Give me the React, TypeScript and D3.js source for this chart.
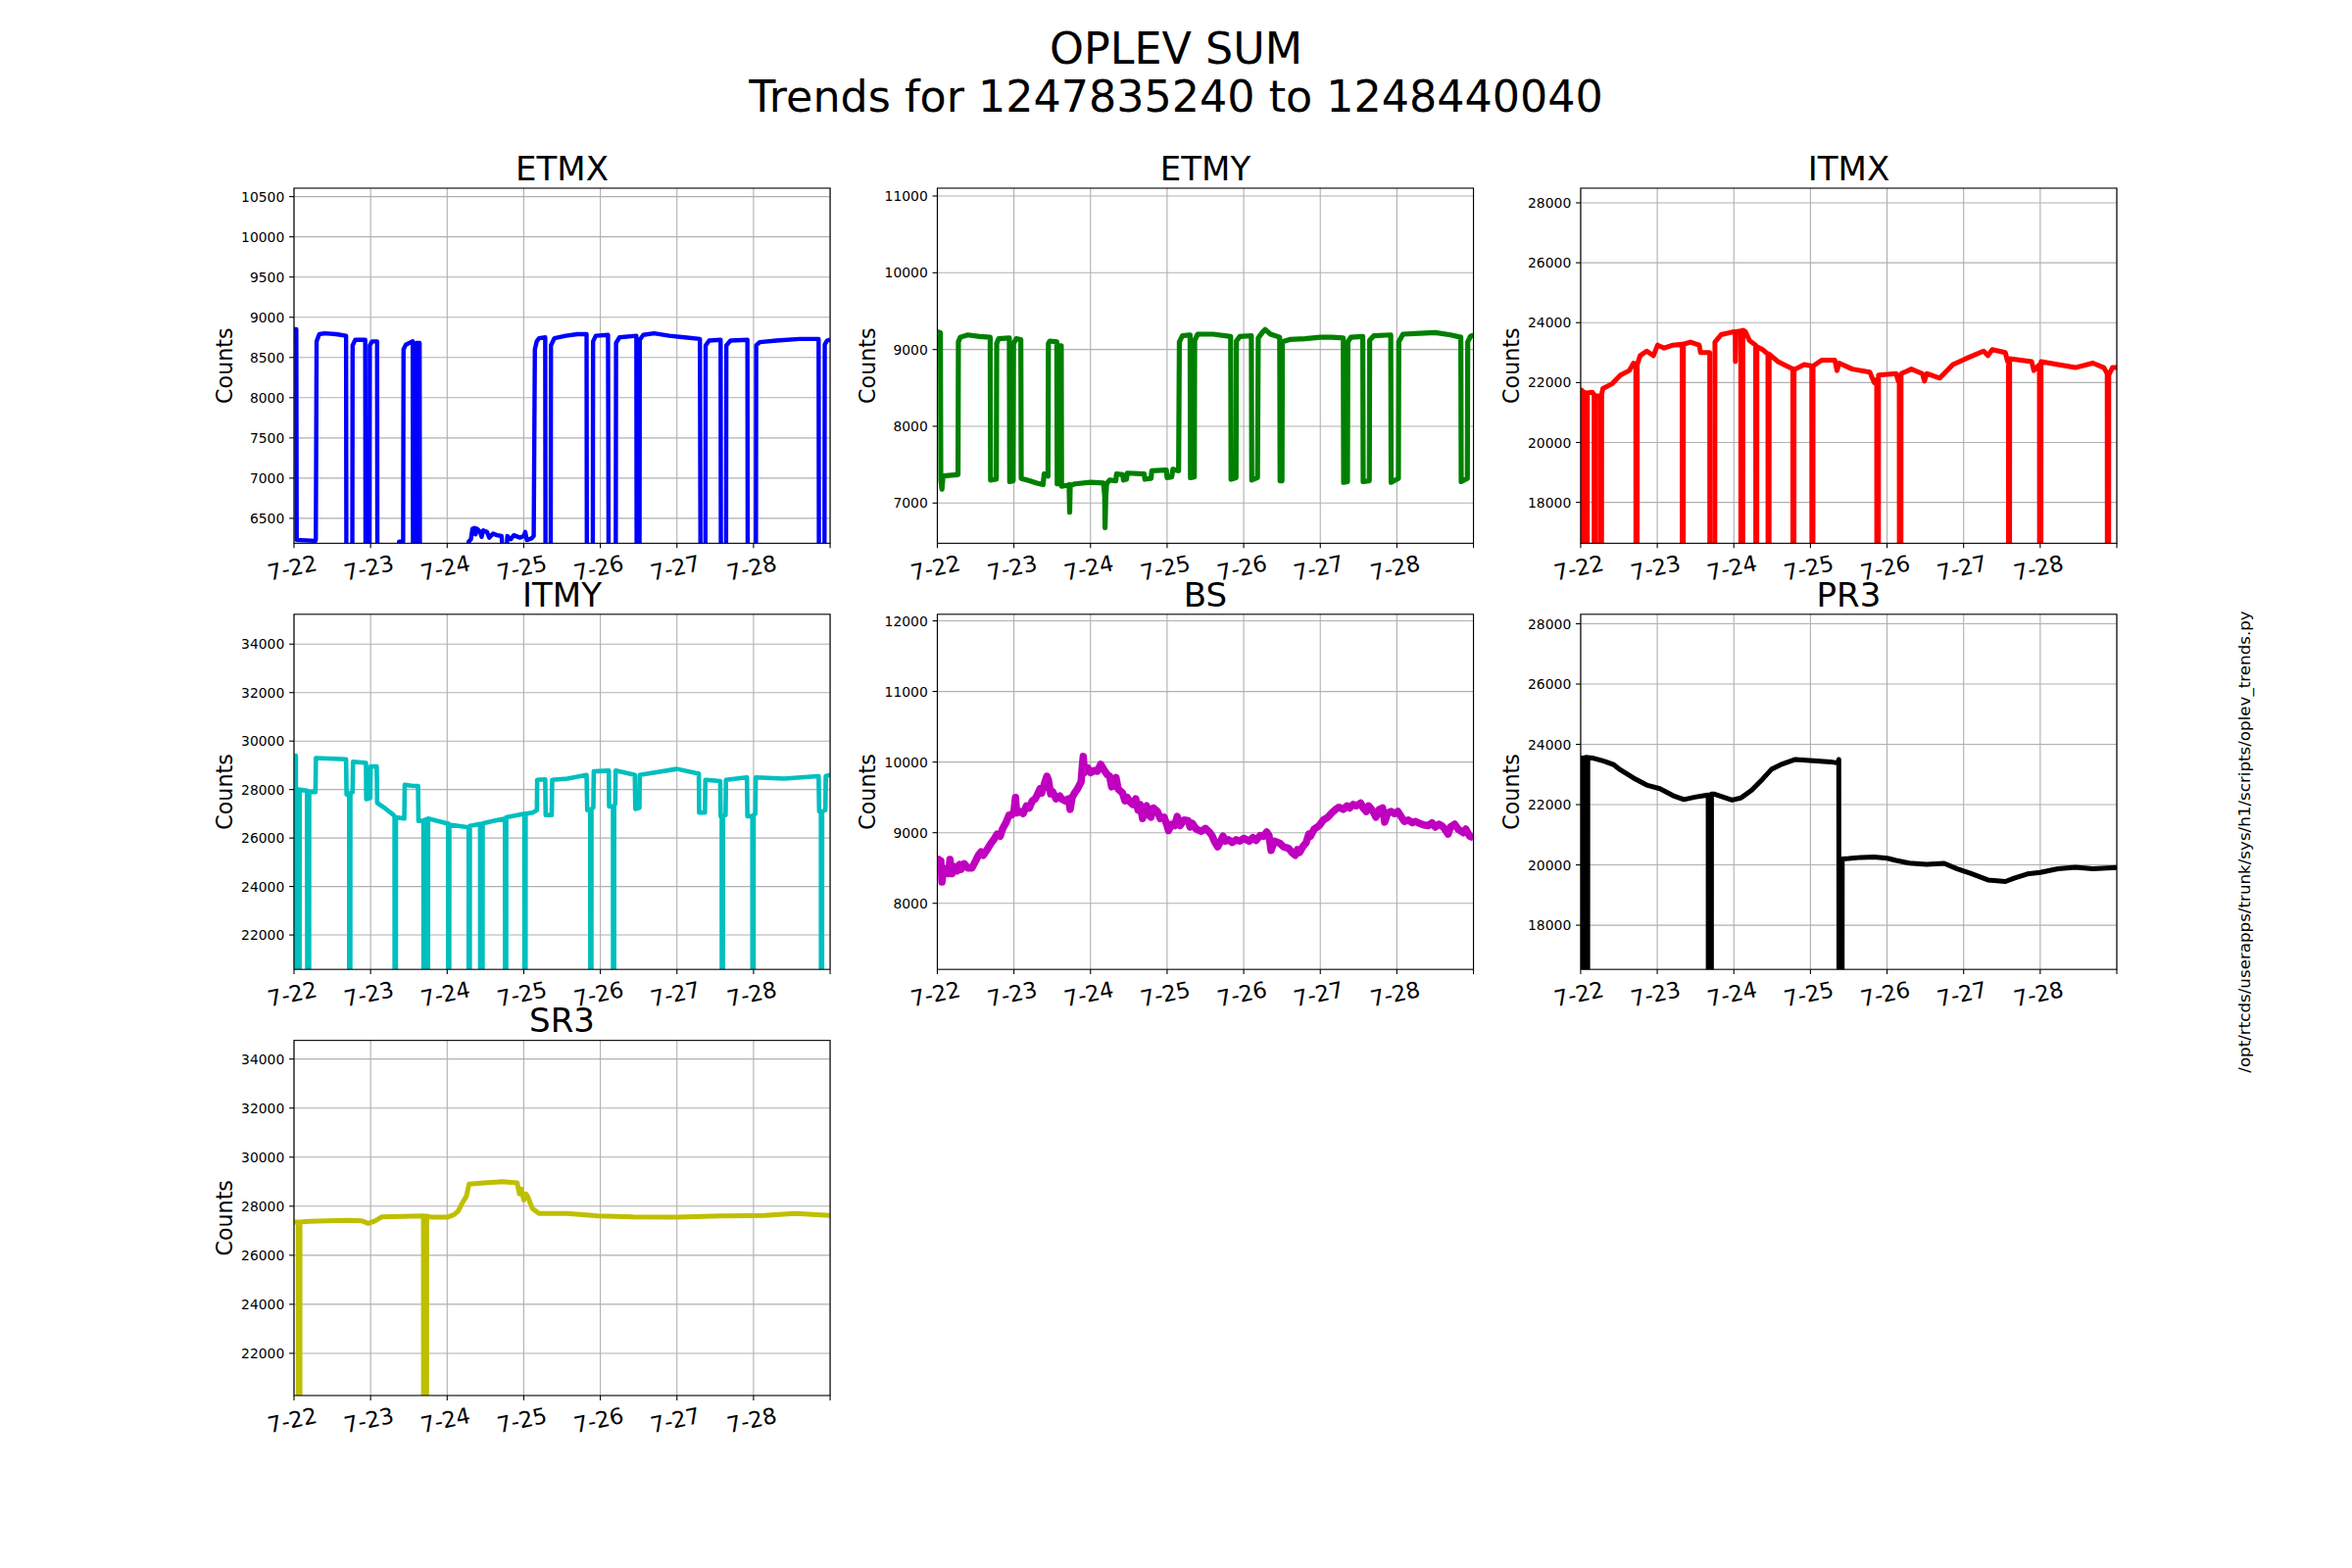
import * as d3 from "d3";

// layout of the matplotlib-like 3x3 grid (figure 2400x1600)
const FIG_W = 2400;
const FIG_H = 1600;
const GRID_L = 300;
const GRID_R = 2160;
const GRID_T = 192;
const GRID_B = 1424;
const COL_W = (GRID_R - GRID_L) / 3.4;
const ROW_H = (GRID_B - GRID_T) / 3.4;

const FONT = "DejaVu Sans, Verdana, sans-serif";

const dayTicks = [0, 1, 2, 3, 4, 5, 6, 7];
const dayLabels = ["7-22", "7-23", "7-24", "7-25", "7-26", "7-27", "7-28"];

// value used where the signal drops below the visible range
const L = 5000;

const etmx: [number, number][] = [
	[0, 8850], [0.03, 8850], [0.035, 6230], [0.28, 6220], [0.285, 6240], [0.295, 8700], [0.33, 8790],
	[0.4, 8800], [0.55, 8790], [0.68, 8770], [0.685, L], [0.76, L], [0.765, 8650], [0.8, 8720],
	[0.93, 8720], [0.935, L], [0.985, L], [0.99, 8650], [1.02, 8700], [1.085, 8700], [1.09, L],
	[1.37, L], [1.372, 6210], [1.425, 6210], [1.43, 8600], [1.46, 8660], [1.55, 8700], [1.555, L],
	[1.595, L], [1.6, 8680], [1.64, 8680], [1.645, L], [2.24, L], [2.28, 6210], [2.31, 6240],
	[2.33, 6370], [2.36, 6380], [2.37, 6300], [2.39, 6370], [2.43, 6330], [2.45, 6270], [2.47, 6350],
	[2.52, 6330], [2.55, 6260], [2.6, 6310], [2.65, 6290], [2.71, 6280], [2.72, 6150], [2.78, 6150],
	[2.785, 6280], [2.83, 6240], [2.87, 6290], [2.95, 6260], [3.0, 6280], [3.02, 6330], [3.04, 6230],
	[3.1, 6250], [3.13, 6280], [3.145, 8600], [3.17, 8700], [3.2, 8740], [3.28, 8750], [3.285, L],
	[3.35, L], [3.355, 8650], [3.4, 8740], [3.55, 8770], [3.7, 8790], [3.82, 8790], [3.825, L],
	[3.9, L], [3.905, 8700], [3.94, 8770], [4.1, 8780], [4.11, L], [4.2, L], [4.205, 8680],
	[4.25, 8750], [4.47, 8770], [4.475, L], [4.51, L], [4.515, 8720], [4.56, 8780], [4.7, 8800],
	[4.9, 8770], [5.1, 8750], [5.3, 8730], [5.31, L], [5.37, L], [5.375, 8650], [5.42, 8710],
	[5.57, 8720], [5.575, L], [5.64, L], [5.645, 8650], [5.7, 8710], [5.92, 8720], [5.925, L],
	[6.03, L], [6.035, 8650], [6.08, 8690], [6.3, 8710], [6.6, 8730], [6.85, 8730], [6.855, L],
	[6.925, L], [6.93, 8660], [6.96, 8710], [7.0, 8720],
];

const etmy: [number, number][] = [
	[0, 9230], [0.04, 9220], [0.045, 7300], [0.06, 7180], [0.075, 7350], [0.15, 7360], [0.27, 7370],
	[0.275, 9100], [0.3, 9160], [0.4, 9190], [0.55, 9170], [0.69, 9160], [0.695, 7300], [0.77, 7310],
	[0.775, 9080], [0.8, 9140], [0.94, 9150], [0.945, 7280], [0.99, 7290], [0.995, 9080], [1.03, 9140],
	[1.09, 9130], [1.095, 7320], [1.2, 7290], [1.3, 7260], [1.38, 7240], [1.395, 7380], [1.445, 7350],
	[1.45, 9080], [1.47, 9110], [1.56, 9100], [1.565, 7250], [1.6, 7250], [1.603, 9050], [1.618, 9050],
	[1.622, 7220], [1.7, 7230], [1.72, 7240], [1.728, 6880], [1.735, 7230], [1.8, 7250], [2.0, 7270],
	[2.17, 7260], [2.185, 7100], [2.19, 6680], [2.2, 7100], [2.21, 7250], [2.25, 7300], [2.33, 7290],
	[2.34, 7380], [2.42, 7370], [2.43, 7300], [2.47, 7310], [2.48, 7390], [2.7, 7380], [2.71, 7310],
	[2.79, 7320], [2.8, 7420], [2.99, 7430], [3.0, 7330], [3.06, 7340], [3.075, 7440], [3.15, 7420],
	[3.16, 9100], [3.2, 9180], [3.3, 9190], [3.305, 7330], [3.355, 7340], [3.36, 9120], [3.4, 9200],
	[3.6, 9200], [3.83, 9170], [3.835, 7310], [3.9, 7330], [3.905, 9110], [3.95, 9170], [4.1, 9180],
	[4.105, 7300], [4.18, 7330], [4.19, 9150], [4.25, 9230], [4.28, 9260], [4.35, 9200], [4.47, 9160],
	[4.475, 7290], [4.5, 7290], [4.505, 9100], [4.6, 9130], [4.8, 9140], [5.0, 9160], [5.15, 9160],
	[5.3, 9150], [5.305, 7270], [5.355, 7280], [5.36, 9100], [5.4, 9160], [5.555, 9170], [5.56, 7280],
	[5.64, 7290], [5.645, 9120], [5.7, 9180], [5.92, 9190], [5.925, 7270], [6.02, 7320], [6.025, 9100],
	[6.08, 9200], [6.3, 9210], [6.5, 9220], [6.7, 9190], [6.835, 9160], [6.84, 7280], [6.92, 7320],
	[6.925, 9100], [6.96, 9170], [7.0, 9190],
];

const itmx: [number, number][] = [
	[0, 21750], [0.012, 21750], [0.015, L], [0.025, L], [0.028, 21700], [0.07, 21650], [0.073, L],
	[0.085, L], [0.088, 21650], [0.15, 21680], [0.175, 21600], [0.178, L], [0.19, L], [0.193, 21550],
	[0.24, 21550], [0.258, 21550], [0.261, L], [0.271, L], [0.274, 21600], [0.29, 21800], [0.405, 21950],
	[0.52, 22250], [0.634, 22400], [0.69, 22650], [0.72, 22600], [0.723, L], [0.735, L], [0.738, 22600],
	[0.777, 22900], [0.862, 23050], [0.95, 22900], [1.005, 23250], [1.09, 23150], [1.205, 23250],
	[1.325, 23280], [1.328, L], [1.338, L], [1.341, 23280], [1.433, 23350], [1.548, 23250],
	[1.565, 23000], [1.662, 23000], [1.685, 23000], [1.688, L], [1.75, L], [1.753, 23350],
	[1.833, 23600], [2.005, 23700], [2.018, 23680], [2.02, 22700], [2.026, 23700], [2.09, 23720],
	[2.093, L], [2.115, L], [2.118, 23750], [2.15, 23700], [2.204, 23400], [2.285, 23250], [2.288, L],
	[2.298, L], [2.301, 23200], [2.376, 23100], [2.445, 22950], [2.448, L], [2.458, L], [2.461, 22950],
	[2.576, 22700], [2.69, 22550], [2.77, 22450], [2.773, L], [2.783, L], [2.786, 22450], [2.804, 22450],
	[2.918, 22600], [3.018, 22550], [3.021, L], [3.031, L], [3.034, 22550], [3.147, 22750],
	[3.318, 22750], [3.347, 22400], [3.375, 22650], [3.547, 22450], [3.775, 22350], [3.832, 22000],
	[3.865, 22100], [3.868, L], [3.885, L], [3.889, 22250], [4.118, 22300], [4.146, 22050],
	[4.16, 22100], [4.163, L], [4.18, L], [4.183, 22300], [4.232, 22350], [4.317, 22450], [4.46, 22300],
	[4.489, 22050], [4.517, 22300], [4.689, 22150], [4.86, 22600], [5.031, 22800], [5.26, 23050],
	[5.317, 22900], [5.374, 23100], [5.545, 23000], [5.574, 22700], [5.585, 22750], [5.588, L],
	[5.598, L], [5.601, 22800], [5.888, 22700], [5.917, 22400], [5.99, 22600], [5.993, L], [6.008, L],
	[6.011, 22700], [6.231, 22600], [6.459, 22500], [6.688, 22650], [6.83, 22500], [6.875, 22300],
	[6.878, L], [6.892, L], [6.895, 22250], [6.944, 22500], [7.0, 22500],
];

const itmy: [number, number][] = [
	[0, 29400], [0.025, 29400], [0.028, L], [0.04, L], [0.043, 28000], [0.057, 28000], [0.06, L],
	[0.07, L], [0.073, 28000], [0.17, 27950], [0.18, L], [0.195, L], [0.198, 27900], [0.28, 27900],
	[0.286, 29300], [0.45, 29280], [0.68, 29250], [0.686, 27800], [0.72, 27800], [0.723, L], [0.733, L],
	[0.736, 27850], [0.765, 27900], [0.771, 29150], [0.94, 29100], [0.943, 27600], [0.995, 27650],
	[1.0, 28950], [1.08, 28950], [1.086, 27450], [1.2, 27200], [1.3, 26950], [1.313, 26900],
	[1.316, L], [1.328, L], [1.331, 26850], [1.44, 26800], [1.446, 28200], [1.55, 28150],
	[1.62, 28150], [1.625, 26700], [1.69, 26720], [1.693, L], [1.703, L], [1.706, 26750],
	[1.735, 26780], [1.738, L], [1.748, L], [1.751, 26800], [2.0, 26600], [2.012, 26600], [2.015, L],
	[2.025, L], [2.028, 26550], [2.257, 26450], [2.28, 26450], [2.283, L], [2.293, L], [2.296, 26500],
	[2.43, 26580], [2.433, L], [2.46, L], [2.463, 26600], [2.6, 26700], [2.755, 26800], [2.758, L],
	[2.768, L], [2.771, 26850], [3.0, 27000], [3.008, 27000], [3.011, L], [3.021, L], [3.024, 27000],
	[3.114, 27050], [3.171, 27150], [3.175, 28400], [3.28, 28420], [3.286, 26950], [3.365, 26950],
	[3.371, 28400], [3.571, 28450], [3.82, 28600], [3.829, 27150], [3.868, 27150], [3.871, L],
	[3.881, L], [3.884, 27200], [3.908, 27250], [3.914, 28750], [4.11, 28780], [4.114, 27300],
	[4.165, 27300], [4.168, L], [4.178, L], [4.181, 27350], [4.194, 27400], [4.2, 28780], [4.45, 28600],
	[4.457, 27200], [4.51, 27250], [4.514, 28600], [4.714, 28700], [5.0, 28850], [5.286, 28650],
	[5.29, 27050], [5.365, 27050], [5.371, 28400], [5.565, 28350], [5.571, 26900], [5.585, 26900],
	[5.588, L], [5.598, L], [5.601, 26900], [5.635, 26950], [5.64, 28400], [5.914, 28500],
	[5.92, 26900], [5.985, 26900], [5.988, L], [5.998, L], [6.001, 26950], [6.023, 27000],
	[6.029, 28500], [6.4, 28450], [6.85, 28550], [6.857, 27100], [6.88, 27100], [6.883, L], [6.893, L],
	[6.896, 27100], [6.938, 27150], [6.943, 28550], [7.0, 28600],
];

const bs: [number, number][] = [
	[0, 8500], [0.015, 8620], [0.03, 8450], [0.045, 8600], [0.06, 8300], [0.068, 8380], [0.1, 8450],
	[0.13, 8500], [0.15, 8420], [0.165, 8620], [0.18, 8480], [0.194, 8420], [0.23, 8520], [0.26, 8460],
	[0.29, 8550], [0.31, 8480], [0.35, 8560], [0.4, 8500], [0.451, 8500], [0.5, 8600], [0.536, 8680],
	[0.57, 8730], [0.6, 8680], [0.65, 8760], [0.7, 8850], [0.736, 8900], [0.78, 8980], [0.82, 8950],
	[0.85, 9050], [0.9, 9150], [0.936, 9250], [0.97, 9250], [1.0, 9300], [1.021, 9500], [1.035, 9280],
	[1.08, 9300], [1.12, 9270], [1.164, 9380], [1.2, 9350], [1.24, 9450], [1.278, 9480], [1.31, 9550],
	[1.34, 9620], [1.363, 9560], [1.4, 9700], [1.43, 9800], [1.449, 9750], [1.48, 9550], [1.506, 9580],
	[1.55, 9480], [1.6, 9520], [1.62, 9480], [1.67, 9450], [1.71, 9480], [1.734, 9330], [1.76, 9500],
	[1.791, 9560], [1.83, 9620], [1.877, 9720], [1.89, 9900], [1.905, 10080], [1.92, 9850],
	[1.962, 9920], [2.0, 9850], [2.048, 9880], [2.09, 9870], [2.133, 9970], [2.17, 9900], [2.219, 9820],
	[2.25, 9800], [2.276, 9650], [2.3, 9720], [2.333, 9780], [2.36, 9620], [2.419, 9560], [2.45, 9450],
	[2.48, 9500], [2.504, 9450], [2.55, 9400], [2.59, 9480], [2.62, 9320], [2.647, 9400], [2.68, 9200],
	[2.71, 9350], [2.732, 9380], [2.76, 9250], [2.789, 9220], [2.82, 9350], [2.875, 9300], [2.91, 9200],
	[2.961, 9220], [3.0, 9100], [3.018, 9030], [3.06, 9120], [3.1, 9100], [3.132, 9230], [3.17, 9100],
	[3.22, 9180], [3.274, 9170], [3.3, 9080], [3.331, 9130], [3.38, 9050], [3.446, 9020], [3.5, 9060],
	[3.56, 9000], [3.59, 8950], [3.617, 8880], [3.66, 8800], [3.685, 8850], [3.731, 8950], [3.76, 8880],
	[3.8, 8900], [3.85, 8860], [3.902, 8900], [3.95, 8880], [4.0, 8920], [4.073, 8880], [4.12, 8930],
	[4.16, 8890], [4.216, 8960], [4.26, 8950], [4.3, 9010], [4.33, 8960], [4.358, 8750], [4.4, 8880],
	[4.472, 8850], [4.52, 8800], [4.586, 8780], [4.63, 8720], [4.672, 8680], [4.7, 8760], [4.729, 8720],
	[4.77, 8800], [4.815, 8860], [4.85, 8980], [4.872, 8950], [4.92, 9050], [4.986, 9100], [5.04, 9180],
	[5.1, 9220], [5.15, 9280], [5.2, 9330], [5.243, 9360], [5.3, 9330], [5.35, 9380], [5.385, 9350],
	[5.43, 9400], [5.47, 9380], [5.528, 9420], [5.56, 9350], [5.6, 9300], [5.63, 9380], [5.67, 9330],
	[5.7, 9280], [5.727, 9220], [5.77, 9330], [5.813, 9350], [5.841, 9150], [5.88, 9280], [5.927, 9300],
	[5.97, 9270], [6.013, 9300], [6.06, 9220], [6.098, 9160], [6.15, 9180], [6.2, 9140], [6.241, 9160],
	[6.3, 9130], [6.35, 9110], [6.412, 9100], [6.46, 9140], [6.5, 9080], [6.55, 9120], [6.583, 9100],
	[6.62, 9060], [6.669, 8980], [6.7, 9080], [6.754, 9120], [6.8, 9050], [6.868, 9000], [6.9, 9050],
	[6.95, 8950], [7.0, 8930],
];

const pr3: [number, number][] = [
	[0, 23550], [0.025, 23550], [0.028, L], [0.04, L], [0.043, 23550], [0.075, 23570], [0.078, L],
	[0.09, L], [0.093, 23560], [0.15, 23550], [0.291, 23450], [0.33, 23420], [0.434, 23320],
	[0.52, 23150], [0.691, 22880], [0.862, 22650], [1.034, 22530], [1.205, 22300], [1.348, 22170],
	[1.491, 22250], [1.62, 22300], [1.665, 22320], [1.668, L], [1.705, L], [1.708, 22350],
	[1.748, 22350], [1.862, 22250], [1.976, 22150], [2.09, 22220], [2.233, 22480], [2.376, 22850],
	[2.49, 23170], [2.633, 23350], [2.804, 23500], [3.033, 23460], [3.261, 23420], [3.36, 23380],
	[3.37, 23500], [3.375, L], [3.41, L], [3.415, 20200], [3.5, 20210], [3.661, 20250], [3.832, 20260],
	[4.003, 20220], [4.118, 20150], [4.289, 20060], [4.517, 20020], [4.746, 20050], [4.917, 19870],
	[5.089, 19720], [5.317, 19500], [5.545, 19450], [5.659, 19560], [5.831, 19700], [6.002, 19750],
	[6.231, 19870], [6.459, 19920], [6.688, 19870], [7.0, 19910],
];

const sr3: [number, number][] = [
	[0, 27350], [0.055, 27350], [0.058, L], [0.075, L], [0.078, 27350], [0.2, 27380], [0.429, 27400],
	[0.7, 27420], [0.886, 27400], [0.971, 27300], [1.057, 27400], [1.143, 27560], [1.4, 27580],
	[1.69, 27600], [1.693, L], [1.73, L], [1.733, 27600], [1.8, 27550], [2.0, 27550], [2.086, 27650],
	[2.143, 27800], [2.2, 28150], [2.25, 28400], [2.286, 28900], [2.486, 28950], [2.714, 29000],
	[2.914, 28950], [2.943, 28500], [2.97, 28700], [3.0, 28250], [3.03, 28500], [3.057, 28350],
	[3.114, 27900], [3.2, 27700], [3.571, 27700], [3.971, 27600], [4.429, 27560], [5.0, 27550],
	[5.571, 27600], [6.143, 27620], [6.543, 27700], [7.0, 27620],
];

const optics = ["ETMX", "ETMY", "ITMX", "ITMY", "BS", "PR3", "SR3"];
const colors = ["#0000ff", "#008000", "#ff0000", "#00bfbf", "#bf00bf", "#000000", "#bfbf00"];
// the raw trends are noisy, so the drawn band is a bit wider than the 3pt line
const strokes = [4.4, 5.2, 5.0, 4.6, 7.5, 5.0, 5.0];
const series = [etmx, etmy, itmx, itmy, bs, pr3, sr3];
const yDomains: [number, number][] = [
	[6190, 10605],
	[6476, 11102],
	[16635, 28490],
	[20580, 35230],
	[7064, 12093],
	[16534, 28315],
	[20280, 34760],
];
const yTicks = [
	d3.range(6500, 10501, 500),
	d3.range(7000, 11001, 1000),
	d3.range(18000, 28001, 2000),
	d3.range(22000, 34001, 2000),
	d3.range(8000, 12001, 1000),
	d3.range(18000, 28001, 2000),
	d3.range(22000, 34001, 2000),
];

function Panel({ i }: { i: number }) {
	const col = i % 3;
	const row = Math.floor(i / 3);
	const x0 = GRID_L + col * COL_W * 1.2;
	const y0 = GRID_T + row * ROW_H * 1.2;
	const x = d3.scaleLinear().domain([0, 7]).range([x0, x0 + COL_W]);
	const y = d3.scaleLinear().domain(yDomains[i]).range([y0 + ROW_H, y0]);
	const line = d3
		.line<[number, number]>()
		.x((d) => x(d[0]))
		.y((d) => y(d[1]));
	const clipId = `clip-${optics[i]}`;
	const grid = "#b0b0b0";

	return (
		<g>
			<defs>
				<clipPath id={clipId}>
					<rect x={x0} y={y0} width={COL_W} height={ROW_H} />
				</clipPath>
			</defs>
			<rect x={x0} y={y0} width={COL_W} height={ROW_H} fill="white" />
			{dayTicks.map((t) => (
				<line key={`gx${t}`} x1={x(t)} x2={x(t)} y1={y0} y2={y0 + ROW_H} stroke={grid} strokeWidth={1.1} />
			))}
			{yTicks[i].map((t) => (
				<line key={`gy${t}`} x1={x0} x2={x0 + COL_W} y1={y(t)} y2={y(t)} stroke={grid} strokeWidth={1.1} />
			))}
			<path
				d={line(series[i]) ?? ""}
				fill="none"
				stroke={colors[i]}
				strokeWidth={strokes[i]}
				strokeLinejoin="round"
				clipPath={`url(#${clipId})`}
			/>
			<rect x={x0} y={y0} width={COL_W} height={ROW_H} fill="none" stroke="black" strokeWidth={1.1} />
			{dayTicks.map((t) => (
				<line key={`tx${t}`} x1={x(t)} x2={x(t)} y1={y0 + ROW_H} y2={y0 + ROW_H + 4.9} stroke="black" strokeWidth={1.1} />
			))}
			{dayLabels.map((lab, k) => {
				const cx = x(dayTicks[k]) - 1.8;
				const cy = y0 + ROW_H + 25;
				return (
					<text
						key={`lx${k}`}
						x={cx}
						y={cy}
						transform={`rotate(-12, ${cx}, ${cy})`}
						textAnchor="middle"
						dominantBaseline="central"
						fontSize={22.5}
						fontFamily={FONT}
					>
						{lab}
					</text>
				);
			})}
			{yTicks[i].map((t) => (
				<g key={`ty${t}`}>
					<line x1={x0 - 4.9} x2={x0} y1={y(t)} y2={y(t)} stroke="black" strokeWidth={1.1} />
					<text
						x={x0 - 9.7}
						y={y(t)}
						textAnchor="end"
						dominantBaseline="central"
						fontSize={13.9}
						fontFamily={FONT}
					>
						{t}
					</text>
				</g>
			))}
			<text
				x={x0 - 63}
				y={y0 + ROW_H / 2}
				transform={`rotate(-90, ${x0 - 63}, ${y0 + ROW_H / 2})`}
				textAnchor="middle"
				fontSize={22.2}
				fontFamily={FONT}
			>
				Counts
			</text>
			<text x={x0 + COL_W / 2} y={y0 - 8.3} textAnchor="middle" fontSize={34} fontFamily={FONT}>
				{optics[i]}
			</text>
		</g>
	);
}

export default function App() {
	return (
		<svg
			width={FIG_W}
			height={FIG_H}
			style={{ position: "absolute", left: 0, top: 0, background: "white" }}
		>
			<rect width={FIG_W} height={FIG_H} fill="white" />
			<text x={FIG_W / 2} y={65} textAnchor="middle" fontSize={44.4} fontFamily={FONT}>
				OPLEV SUM
			</text>
			<text x={FIG_W / 2} y={114} textAnchor="middle" fontSize={44.4} fontFamily={FONT}>
				Trends for 1247835240 to 1248440040
			</text>
			{optics.map((_, i) => (
				<Panel key={i} i={i} />
			))}
			<text
				x={2290}
				y={859}
				transform="rotate(-90, 2290, 859)"
				textAnchor="middle"
				dominantBaseline="central"
				fontSize={16.7}
				fontFamily={FONT}
			>
				/opt/rtcds/userapps/trunk/sys/h1/scripts/oplev_trends.py
			</text>
		</svg>
	);
}
